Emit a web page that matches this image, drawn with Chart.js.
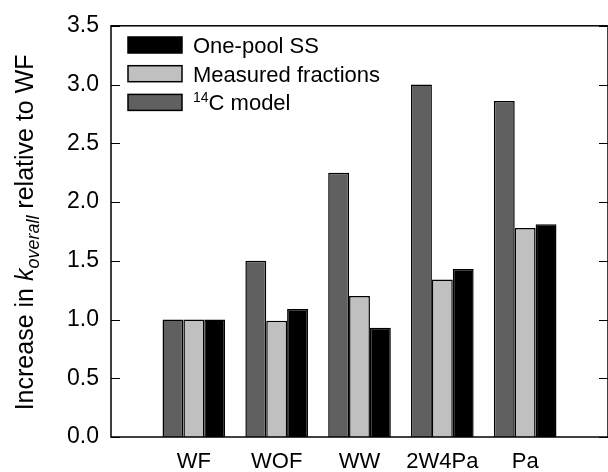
<!DOCTYPE html>
<html>
<head>
<meta charset="utf-8">
<script src="https://cdn.jsdelivr.net/npm/chart.js@4/dist/chart.umd.min.js"></script>
<style>
  html, body { margin: 0; padding: 0; background: #fff; }
  #wrap { width: 608px; height: 472px; overflow: hidden; position: relative; }
  #wrap canvas { position: absolute; left: 0; top: 0; }
</style>
</head>
<body>
<div id="wrap"><canvas id="chart" width="620" height="472" style="width:620px;height:472px"></canvas></div>
<script>
// values
const categories = ['WF', 'WOF', 'WW', '2W4Pa', 'Pa'];
const model14C = [1.0, 1.5, 2.25, 3.0, 2.86];
const measuredFractions = [1.0, 0.99, 1.2, 1.34, 1.78];
const onePoolSS = [1.0, 1.09, 0.93, 1.43, 1.81];
const yMax = 3.5;
const yStep = 0.5;

const FONT = '"Liberation Sans", Arial, sans-serif';

// the x axis has an empty slot at each end, like the original plot
const labels = ['', ...categories, ''];
const pad = arr => [null, ...arr, null];

// frame with inward ticks on left and right
const framePlugin = {
    id: 'frame',
    afterDraw(chart) {
        const ctx = chart.ctx;
        const a = chart.chartArea;
        const y = chart.scales.y;
        ctx.save();
        ctx.strokeStyle = '#000';
        ctx.lineWidth = 1.5;
        ctx.strokeRect(a.left, a.top, a.right - a.left, a.bottom - a.top);
        ctx.beginPath();
        y.ticks.forEach(t => {
            const py = Math.round(y.getPixelForValue(t.value)) + 0.5;
            ctx.moveTo(a.left, py);
            ctx.lineTo(a.left + 9, py);
            ctx.moveTo(a.right - 9, py);
            ctx.lineTo(a.right, py);
        });
        ctx.lineWidth = 1.2;
        ctx.stroke();
        ctx.restore();
    }
};

// legend drawn in the top-left corner, last dataset first
const legendPlugin = {
    id: 'boxLegend',
    afterDraw(chart) {
        const ctx = chart.ctx;
        const sets = chart.data.datasets.slice().reverse();
        ctx.save();
        sets.forEach((ds, i) => {
            const top = 37 + i * 28.7;
            ctx.fillStyle = ds.backgroundColor;
            ctx.fillRect(128, top, 54, 16);
            ctx.lineWidth = 1.5;
            ctx.strokeStyle = '#000';
            ctx.strokeRect(128, top, 54, 16);
            ctx.fillStyle = '#000';
            ctx.textBaseline = 'alphabetic';
            let x = 193;
            const base = top + 16;
            (ds.legendParts || [{ t: ds.label }]).forEach(p => {
                if (p.sup) {
                    ctx.font = '14px ' + FONT;
                    ctx.fillText(p.t, x, base - 8);
                } else {
                    ctx.font = '22px ' + FONT;
                    ctx.fillText(p.t, x, base);
                }
                x += ctx.measureText(p.t).width;
            });
        });
        ctx.restore();
    }
};

// rotated y title with italic k and subscript
const yTitlePlugin = {
    id: 'yTitle',
    afterDraw(chart) {
        const ctx = chart.ctx;
        const a = chart.chartArea;
        const parts = [
            { t: 'Increase in ', font: '25px ' + FONT, dy: 0 },
            { t: 'k', font: 'italic 25px ' + FONT, dy: 0 },
            { t: 'overall', font: 'italic 18px ' + FONT, dy: 6 },
            { t: ' relative to WF', font: '25px ' + FONT, dy: 0 }
        ];
        ctx.save();
        let total = 0;
        parts.forEach(p => { ctx.font = p.font; p.w = ctx.measureText(p.t).width; total += p.w; });
        const cy = (a.top + a.bottom) / 2 + 1;
        ctx.translate(33, cy);
        ctx.rotate(-Math.PI / 2);
        ctx.fillStyle = '#000';
        ctx.textBaseline = 'alphabetic';
        let x = -total / 2;
        parts.forEach(p => {
            ctx.font = p.font;
            ctx.fillText(p.t, x, p.dy);
            x += p.w;
        });
        ctx.restore();
    }
};

new Chart(document.getElementById('chart'), {
    type: 'bar',
    data: {
        labels: labels,
        datasets: [
            {
                label: '14C model',
                legendParts: [{ t: '14', sup: true }, { t: 'C model' }],
                data: pad(model14C),
                backgroundColor: '#606060'
            },
            {
                label: 'Measured fractions',
                data: pad(measuredFractions),
                backgroundColor: '#c0c0c0'
            },
            {
                label: 'One-pool SS',
                data: pad(onePoolSS),
                backgroundColor: '#000000'
            }
        ]
    },
    options: {
        responsive: false,
        animation: false,
        layout: { padding: { left: 0, top: 21, right: 9, bottom: 0 } },
        datasets: {
            bar: {
                categoryPercentage: 0.756,
                barPercentage: 1.0,
                borderWidth: 1.5,
                borderColor: '#000'
            }
        },
        plugins: {
            legend: { display: false },
            tooltip: { enabled: false }
        },
        scales: {
            x: {
                offset: false,
                grid: { display: false, drawTicks: false },
                border: { display: false },
                ticks: {
                    color: '#000',
                    font: { family: FONT, size: 22 },
                    padding: 12,
                    maxRotation: 0,
                    autoSkip: false
                },
                afterFit: s => { s.height = 35; }
            },
            y: {
                min: 0,
                max: yMax,
                grid: { display: false, drawTicks: false },
                border: { display: false },
                ticks: {
                    stepSize: yStep,
                    color: '#000',
                    font: { family: FONT, size: 23 },
                    padding: 12,
                    callback: v => v.toFixed(1)
                },
                afterFit: s => { s.width = 111; }
            }
        }
    },
    plugins: [framePlugin, legendPlugin, yTitlePlugin]
});
</script>
</body>
</html>
